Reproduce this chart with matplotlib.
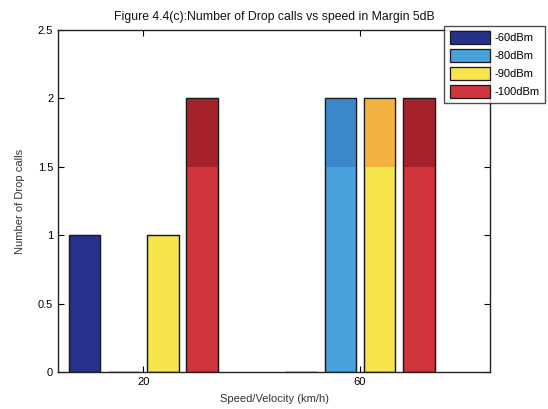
import numpy as np
import matplotlib
matplotlib.use("Agg")
from matplotlib import pyplot as plt

plt.rcParams['font.family'] = ['Liberation Sans', 'DejaVu Sans']

# Данные
speeds = [20, 60]
series = ['-60dBm', '-80dBm', '-90dBm', '-100dBm']
drop_60 = [1, 0]
drop_80 = [0, 2]
drop_90 = [1, 2]
drop_100 = [2, 2]
values = [drop_60, drop_80, drop_90, drop_100]

# Цвета (нижняя часть / верхняя, более тёмная часть столбца)
colors_low = ['#27318c', '#4aa2dc', '#f6e54c', '#cf333b']
colors_high = ['#27318c', '#3a88ca', '#f3b13f', '#a5212b']
shade_level = 1.5

fig = plt.figure(figsize=(5.48, 4.09), dpi=100)
ax = fig.add_axes([0.106, 0.090, 0.788, 0.837])

n = len(series)
group_w = 29.0
bar_w = group_w / n * 0.8
x = np.array(speeds, dtype=float)

handles = []
for i, (name, vals) in enumerate(zip(series, values)):
    pos = x + (i - (n - 1) / 2) * group_w / n
    vals = np.array(vals, dtype=float)
    h = ax.bar(pos, vals, width=bar_w, color=colors_low[i], edgecolor='#1a1a1a',
               linewidth=0.9, label=name, zorder=2)
    top = np.clip(vals - shade_level, 0, None)
    ax.bar(pos, top, bottom=np.where(top > 0, shade_level, 0), width=bar_w,
           color=colors_high[i], edgecolor='none', zorder=3)
    # контур поверх
    ax.bar(pos, vals, width=bar_w, fill=False, edgecolor='#1a1a1a', linewidth=0.9, zorder=4)
    handles.append(h)

ax.set_xlim(4.3, 84)
ax.set_ylim(0, 2.5)
ax.set_xticks(speeds)
ax.set_yticks([0, 0.5, 1, 1.5, 2, 2.5])
ax.set_yticklabels(['0', '0.5', '1', '1.5', '2', '2.5'])
ax.tick_params(direction='in', top=True, right=True, labelsize=8, length=4, width=0.8)
for s in ax.spines.values():
    s.set_linewidth(1.0)
    s.set_color('#222222')

ax.set_title('Figure 4.4(c):Number of Drop calls vs speed in Margin 5dB', fontsize=8.8,
             pad=7, color='#111111')
ax.set_xlabel('Speed/Velocity (km/h)', fontsize=8, labelpad=5, color='#333333')
ax.set_ylabel('Number of Drop calls', fontsize=8, labelpad=9, color='#333333')

leg = fig.legend(handles, series, loc='upper right', bbox_to_anchor=(0.995, 0.937),
                 fontsize=8, frameon=True, fancybox=False, edgecolor='#222222',
                 handlelength=3.6, handleheight=1.4, handletextpad=0.45,
                 borderpad=0.5, labelspacing=0.45, borderaxespad=0)
leg.get_frame().set_linewidth(1.0)

fig.savefig('out.png', dpi=100)
